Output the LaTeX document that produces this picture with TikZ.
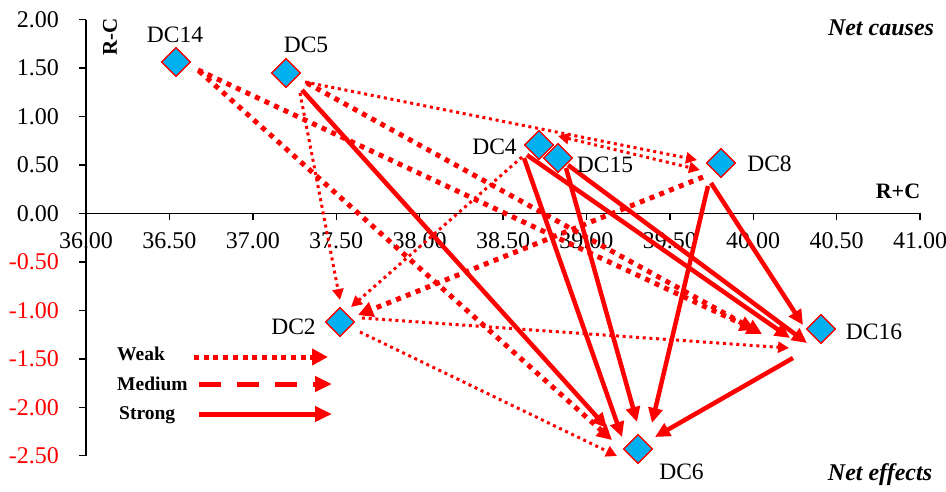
\documentclass[tikz,border=0pt]{standalone}
\usepackage{fontspec}
\setmainfont{Liberation Serif}
\usetikzlibrary{arrows.meta,calc,shapes.geometric}
\definecolor{skyb}{RGB}{0,176,240}
\definecolor{rred}{RGB}{255,0,0}
\begin{document}
\begin{tikzpicture}[x=1pt,y=-1pt,
  axisline/.style={black,line width=1.4pt},
  ticklbl/.style={font=\fontsize{24}{28}\selectfont,inner sep=0pt},
  dclbl/.style={font=\fontsize{23.5}{28}\selectfont,inner sep=0pt},
  dnode/.style={diamond,aspect=1,minimum width=29pt,minimum height=29pt,inner sep=0pt,draw=rred,line width=1.3pt,fill=skyb},
  weakln/.style={rred,line width=3pt,dash pattern=on 3pt off 3.7pt,-{Triangle[length=11pt,width=11pt]}},
  weakboth/.style={rred,line width=3pt,dash pattern=on 3pt off 3.7pt,{Triangle[length=11pt,width=11pt]}-{Triangle[length=11pt,width=11pt]}},
  mediumln/.style={rred,line width=5pt,dash pattern=on 5pt off 5.5pt,-{Triangle[length=15pt,width=15pt]}},
  strongln/.style={rred,line width=4.5pt,-{Triangle[length=15pt,width=14pt]}},
  legtxt/.style={font=\bfseries\fontsize{19.5}{23}\selectfont,inner sep=0pt,anchor=base west},
  legweak/.style={rred,line width=5pt,dash pattern=on 5pt off 4.7pt,-{Triangle[length=16pt,width=16pt]}},
  legmed/.style={rred,line width=5pt,dash pattern=on 22pt off 16pt,-{Triangle[length=17pt,width=15pt]}},
  legstrong/.style={rred,line width=5pt,-{Triangle[length=17pt,width=15pt]}}
]
\useasboundingbox (0,0) rectangle (946,491);
\fill[white] (0,0) rectangle (946,491);

% axes
\draw[axisline] (86,19.5) -- (86,455.7);
\draw[axisline] (86,213.4) -- (920,213.4);
\foreach \yy in {19.5,67.9,116.5,164.9,213.4,261.9,310.3,358.8,407.3,455.7}
  \draw[axisline] (79,\yy) -- (86,\yy);
\foreach \xx in {86,169.4,252.8,336.2,419.6,503,586.4,669.8,753.2,836.6,920}
  \draw[axisline] (\xx,213.4) -- (\xx,220);

% y tick labels
\foreach \yy/\t in {19.5/2.00,67.9/1.50,116.5/1.00,164.9/0.50,213.4/0.00}
  \node[ticklbl,anchor=east] at (59,\yy) {\t};
\foreach \yy/\t in {261.9/-0.50,310.3/-1.00,358.8/-1.50,407.3/-2.00,455.7/-2.50}
  \node[ticklbl,anchor=east,text=rred] at (59,\yy) {\t};
% x tick labels
\foreach \xx/\t in {86/36.00,169.4/36.50,252.8/37.00,336.2/37.50,419.6/38.00,503/38.50,586.4/39.00,669.8/39.50,753.2/40.00,836.6/40.50,920/41.00}
  \node[ticklbl] at (\xx,241) {\t};

% axis titles
\node[font=\bfseries\fontsize{21}{25}\selectfont,rotate=90,inner sep=0pt] (rc) at (110,37) {R-C};
\node[font=\bfseries\fontsize{22}{26}\selectfont,inner sep=0pt] (rpc) at (898,191) {R+C};
\node[font=\bfseries\itshape\fontsize{24}{28}\selectfont,inner sep=0pt] (nc) at (881,28) {Net causes};
\node[font=\bfseries\itshape\fontsize{24}{28}\selectfont,inner sep=0pt] (ne) at (880,475) {Net effects};

% nodes
\node[dnode] (dc14) at (176,62) {};
\node[dnode] (dc5) at (286,73) {};
\node[dnode] (dc4) at (539,145) {};
\node[dnode] (dc15) at (558,158) {};
\node[dnode] (dc8) at (721,163) {};
\node[dnode] (dc16) at (821,329) {};
\node[dnode] (dc2) at (340,322) {};
\node[dnode] (dc6) at (638,449) {};

% connectors
\draw[mediumln] ($(dc14)+(22,8)$) -- ($(dc16)+(-66,1)$);
\draw[mediumln] ($(dc14)+(23,9)$) -- ($(dc6)+(-26,-9)$);
\draw[weakln] ($(dc5)+(19,9)$) -- ($(dc8)+(-24,-3)$);
\draw[mediumln] ($(dc5)+(21,10)$) -- ($(dc16)+(-59,5)$);
\draw[strongln] ($(dc5)+(16,17)$) -- ($(dc6)+(-31,-21)$);
\draw[weakln] ($(dc5)+(14,20)$) -- ($(dc2)+(0,-22)$);
\draw[weakboth] ($(dc4)+(19,-9)$) -- ($(dc8)+(-21,7)$);
\draw[weakln] ($(dc4)+(-17,12)$) -- ($(dc2)+(11,-15)$);
\draw[mediumln] ($(dc8)+(-18,14)$) -- ($(dc2)+(18,-7)$);
\draw[weakln] ($(dc2)+(22,-4)$) -- ($(dc16)+(-32,19)$);
\draw[weakln] ($(dc2)+(20,10)$) -- ($(dc6)+(-21,7)$);
\draw[strongln] ($(dc4)+(-12,10)$) -- ($(dc16)+(-31,9)$);
\draw[strongln] ($(dc4)+(-15,13)$) -- ($(dc6)+(-16,-12)$);
\draw[strongln] ($(dc15)+(10,7)$) -- ($(dc16)+(-14,14)$);
\draw[strongln] ($(dc15)+(8,10)$) -- ($(dc6)+(-1,-27)$);
\draw[strongln] ($(dc8)+(-10,20)$) -- ($(dc16)+(-18,-4)$);
\draw[strongln] ($(dc8)+(-13,23)$) -- ($(dc6)+(14,-26)$);
\draw[strongln] ($(dc16)+(-28,29)$) -- ($(dc6)+(17,-12)$);

% redraw diamonds on top
\node[dnode] at (dc14) {};
\node[dnode] at (dc5) {};
\node[dnode] at (dc4) {};
\node[dnode] at (dc15) {};
\node[dnode] at (dc8) {};
\node[dnode] at (dc16) {};
\node[dnode] at (dc2) {};
\node[dnode] at (dc6) {};

% labels
\node[dclbl] (l14) at (175,35) {DC14};
\node[dclbl] (l5) at (306,45) {DC5};
\node[dclbl] (l4) at (494.5,147) {DC4};
\node[dclbl] (l15) at (605,165) {DC15};
\node[dclbl] (l8) at (769.5,164) {DC8};
\node[dclbl] (l16) at (874,332) {DC16};
\node[dclbl] (l2) at (293.5,327) {DC2};
\node[dclbl] (l6) at (681.5,472) {DC6};

% legend
\node[legtxt] (lwt) at (117,360) {Weak};
\node[legtxt] (lmt) at (117,390) {Medium};
\node[legtxt] (lst) at (119,419) {Strong};
\coordinate (lw1) at (194,357);
\coordinate (lw2) at (328,357);
\coordinate (lm1) at (199,384);
\coordinate (lm2) at (332,384);
\coordinate (ls1) at (199,414);
\coordinate (ls2) at (332,414);
\draw[legweak] (lw1) -- (lw2);
\draw[legmed] (lm1) -- (lm2);
\draw[legstrong] (ls1) -- (ls2);
\end{tikzpicture}
\end{document}
